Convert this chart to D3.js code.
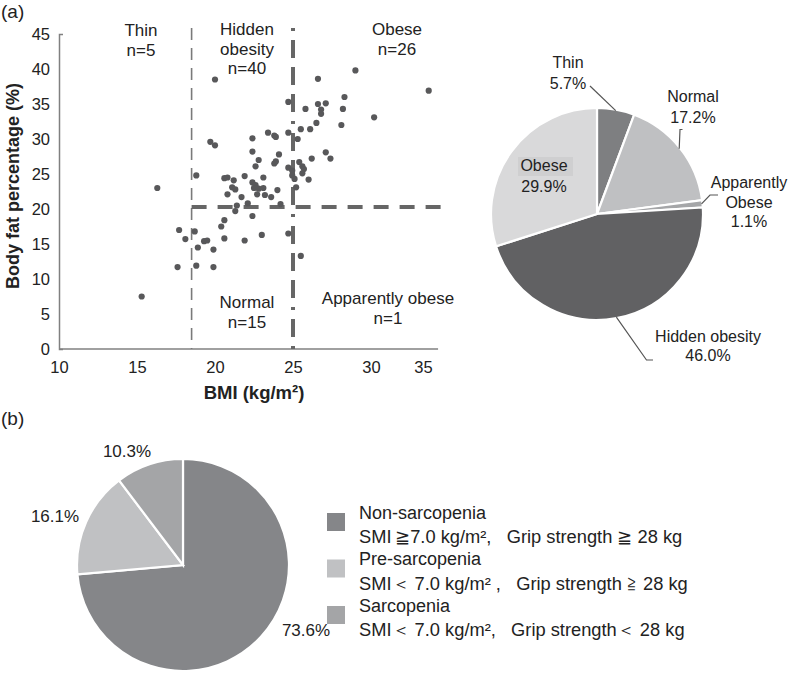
<!DOCTYPE html>
<html><head><meta charset="utf-8">
<script src="https://cdn.jsdelivr.net/npm/d3@7"></script>
<style>
body{margin:0;background:#fff}
text{font-family:"Liberation Sans",Arial,Helvetica,sans-serif;fill:#222}
</style>
</head><body>
<svg id="c" width="800" height="674"></svg>
<script>
// ---------- data ----------
const bmi = [
  16.3,15.3,17.7,18.1,17.6,
  18.7,18.9,19.3,19.5,19.9,20.4,20.6,20.6,21.3,22.4,21.9,23.0,24.7,18.8,19.9,
  25.5,
  20.0,24.7,19.7,20.0,22.4,23.4,23.8,23.9,24.7,22.4,24.1,22.8,22.6,23.9,23.8,24.7,18.8,20.6,20.8,21.2,
  21.9,23.1,22.4,22.6,21.1,21.3,22.5,22.8,23.1,24.0,20.8,22.7,23.2,21.7,23.6,22.1,21.4,24.2,24.95,24.95,
  26.6,29.0,33.7,28.3,26.6,27.1,25.8,26.8,26.8,28.2,26.5,28.1,30.2,25.5,26.1,25.3,27.1,27.4,26.2,25.4,
  25.6,25.7,25.6,26.0,25.2,25.1
];
const bodyFat = [
  23.0,7.5,17.0,15.7,11.7,
  16.8,14.5,15.4,15.5,14.2,17.5,18.4,15.8,19.7,19.0,15.5,16.3,16.5,11.9,11.7,
  13.3,
  38.5,35.3,29.6,29.1,30.1,30.9,30.5,30.3,30.9,28.2,27.8,27.0,26.1,26.8,26.5,25.9,24.8,24.4,24.5,24.1,
  24.7,24.5,23.8,23.4,23.1,22.8,23.0,22.9,23.0,22.7,22.1,22.1,22.0,21.7,21.7,20.8,20.5,20.7,25.5,24.8,
  38.6,39.8,36.9,36.0,35.0,35.1,34.3,34.2,33.6,34.3,32.3,32.0,33.1,31.4,31.4,30.0,28.1,27.2,27.2,26.7,
  26.1,25.7,25.1,24.2,23.1,24.3
];
const xTicks = [10,15,20,25,30,35];
const yTicks = [0,5,10,15,20,25,30,35,40,45];
const bmiCuts = [18.5, 25];
const fatCut = 20.3;
const regionNames = [["Thin"],["Hidden","obesity"],["Obese"],["Normal"],["Apparently obese"]];
const regionN = [5,40,26,15,1];

const groupNames = [["Thin"],["Normal"],["Apparently","Obese"],["Hidden obesity"],["Obese"]];
const groupPct = [5.7,17.2,1.1,46.0,29.9];
const groupColors = ["#7e7f81","#bfc0c2","#a5a6a8","#616163","#d9d9da"];

const sarcNames = ["Non-sarcopenia","Pre-sarcopenia","Sarcopenia"];
const sarcCriteria = [
  "SMI\u2009\u22677.0 kg/m\u00B2,\u00A0\u00A0 Grip strength \u2267 28 kg",
  "SMI\uFF1C 7.0 kg/m\u00B2 ,\u00A0\u00A0 Grip strength \u2267 28 kg",
  "SMI\uFF1C 7.0 kg/m\u00B2,\u00A0\u00A0 Grip strength\uFF1C 28 kg"
];
const sarcPct = [73.6,16.1,10.3];
const sarcColors = ["#858689","#c0c1c3","#a4a5a7"];

// ---------- drawing ----------
const svg = d3.select("#c");
const FS = 16;

svg.append("text").attr("x",1).attr("y",18).style("font-size","19px").text("(a)");
svg.append("text").attr("x",1).attr("y",425).style("font-size","19px").text("(b)");

// scatter
const x = d3.scaleLinear().domain([10,35]).range([59,449]);
const y = d3.scaleLinear().domain([0,45]).range([349,34]);
const axisColor = "#808080";

const gx = svg.append("g").attr("transform",`translate(0,${y(0)})`)
  .call(d3.axisBottom(x).tickValues(xTicks).tickSize(0).tickPadding(12.5));
const gy = svg.append("g").attr("transform",`translate(${x(10)},0)`)
  .call(d3.axisLeft(y).tickValues(yTicks).tickSizeInner(0).tickSizeOuter(-4).tickPadding(9));
[gx,gy].forEach(g=>{
  g.select(".domain").attr("stroke",axisColor).attr("stroke-width",1.5);
  g.selectAll("text").style("font-size","16.5px").style("font-family","'Liberation Sans',Arial,sans-serif").attr("fill","#222");
});
// plot area ends slightly before the last tick, as in the original
gx.select(".domain").attr("d",`M${x(10)},0H${x(34.3)}`);
gx.selectAll(".tick").filter(d=>d===35).select("text").attr("dx",-26);

svg.append("text").attr("x",254).attr("y",399).attr("text-anchor","middle")
  .style("font-size","18.5px").style("font-weight","bold").text("BMI (kg/m\u00B2)");
svg.append("text").attr("transform","translate(19,186) rotate(-90)").attr("text-anchor","middle")
  .style("font-size","18px").style("font-weight","bold").text("Body fat percentage (%)");

// threshold lines
svg.append("line").attr("x1",x(bmiCuts[0])).attr("x2",x(bmiCuts[0])).attr("y1",28).attr("y2",y(0))
  .attr("stroke","#7a7a7a").attr("stroke-width",1.6).attr("stroke-dasharray","12,8");
svg.append("line").attr("x1",x(bmiCuts[1])).attr("x2",x(bmiCuts[1])).attr("y1",28).attr("y2",y(0))
  .attr("stroke","#666").attr("stroke-width",4).attr("stroke-dasharray","3,9,18,9,18,9,18,9");
svg.append("line").attr("x1",x(bmiCuts[0])).attr("x2",x(34.5)).attr("y1",y(fatCut)).attr("y2",y(fatCut))
  .attr("stroke","#666").attr("stroke-width",4).attr("stroke-dasharray","15,11");

// points
svg.append("g").selectAll("circle").data(bmi).join("circle")
  .attr("cx",(d)=>x(d)).attr("cy",(d,i)=>y(bodyFat[i])).attr("r",3.1).attr("fill","#58585a");

// region labels
const regionPos = [[141,36],[247,35],[397,35],[247,308],[388,304]];
regionNames.forEach((lines,i)=>{
  const t = svg.append("text").attr("text-anchor","middle").style("font-size","17px");
  const all = lines.concat(["n="+regionN[i]]);
  all.forEach((s,j)=>t.append("tspan").attr("x",regionPos[i][0]).attr("y",regionPos[i][1]+j*19.5).text(s));
});

// pie (a)
const pie = d3.pie().sort(null).value(d=>d);
const cxA=597, cyA=214, rA=106;
const arcA = d3.arc().innerRadius(0).outerRadius(rA);
const gA = svg.append("g").attr("transform",`translate(${cxA},${cyA})`);
const arcsA = pie(groupPct);
gA.selectAll("path").data(arcsA).join("path").attr("d",arcA)
  .attr("fill",(d,i)=>groupColors[i]).attr("stroke","#fff").attr("stroke-width",2.2);

function edgePt(d,r){const a=(d.startAngle+d.endAngle)/2;return [cxA+r*Math.sin(a), cyA-r*Math.cos(a)];}
const leaders = [
  [[590,86]],
  [[680,129.5],[682.5,129.5]],
  [[710,195],[718,195]],
  [[646.5,360],[653,360]],
  null
];
leaders.forEach((pts,i)=>{
  if(!pts) return;
  const p0 = edgePt(arcsA[i], rA-1);
  svg.append("path").attr("d", d3.line()([p0].concat(pts)))
    .attr("fill","none").attr("stroke","#555").attr("stroke-width",1.2);
});

// pie (a) labels
const labelA = [[568,68],[693,102],[749,188],[708,342],[544,171]];
svg.append("rect").attr("x",518).attr("y",157).attr("width",55).attr("height",19).attr("fill","#cfcfd0");
groupNames.forEach((lines,i)=>{
  const t = svg.append("text").attr("text-anchor","middle").style("font-size",FS+"px");
  const all = lines.concat([groupPct[i].toFixed(1)+"%"]);
  const step = i===3?19:(i===2?19.5:21);
  all.forEach((s,j)=>t.append("tspan").attr("x",labelA[i][0]).attr("y",labelA[i][1]+j*step).text(s));
});

// pie (b)
const cxB=183, cyB=565, rB=106;
const arcB = d3.arc().innerRadius(0).outerRadius(rB);
const gB = svg.append("g").attr("transform",`translate(${cxB},${cyB})`);
gB.selectAll("path").data(pie(sarcPct)).join("path").attr("d",arcB)
  .attr("fill",(d,i)=>sarcColors[i]).attr("stroke","#fff").attr("stroke-width",2.2);
const labelB = [[306,636],[55,522],[127,457]];
sarcPct.forEach((v,i)=>{
  svg.append("text").attr("x",labelB[i][0]).attr("y",labelB[i][1]).attr("text-anchor","middle")
    .style("font-size","17px").text(v.toFixed(1)+"%");
});

// legend
sarcNames.forEach((n,i)=>{
  const top = 513 + i*46.5;
  svg.append("rect").attr("x",327).attr("y",top).attr("width",18).attr("height",18).attr("fill",sarcColors[i]);
  svg.append("text").attr("x",359).attr("y",top+5.5).style("font-size","18px").text(n);
  svg.append("text").attr("x",359).attr("y",top+30).style("font-size","18.3px").text(sarcCriteria[i]);
});
</script>
</body></html>
